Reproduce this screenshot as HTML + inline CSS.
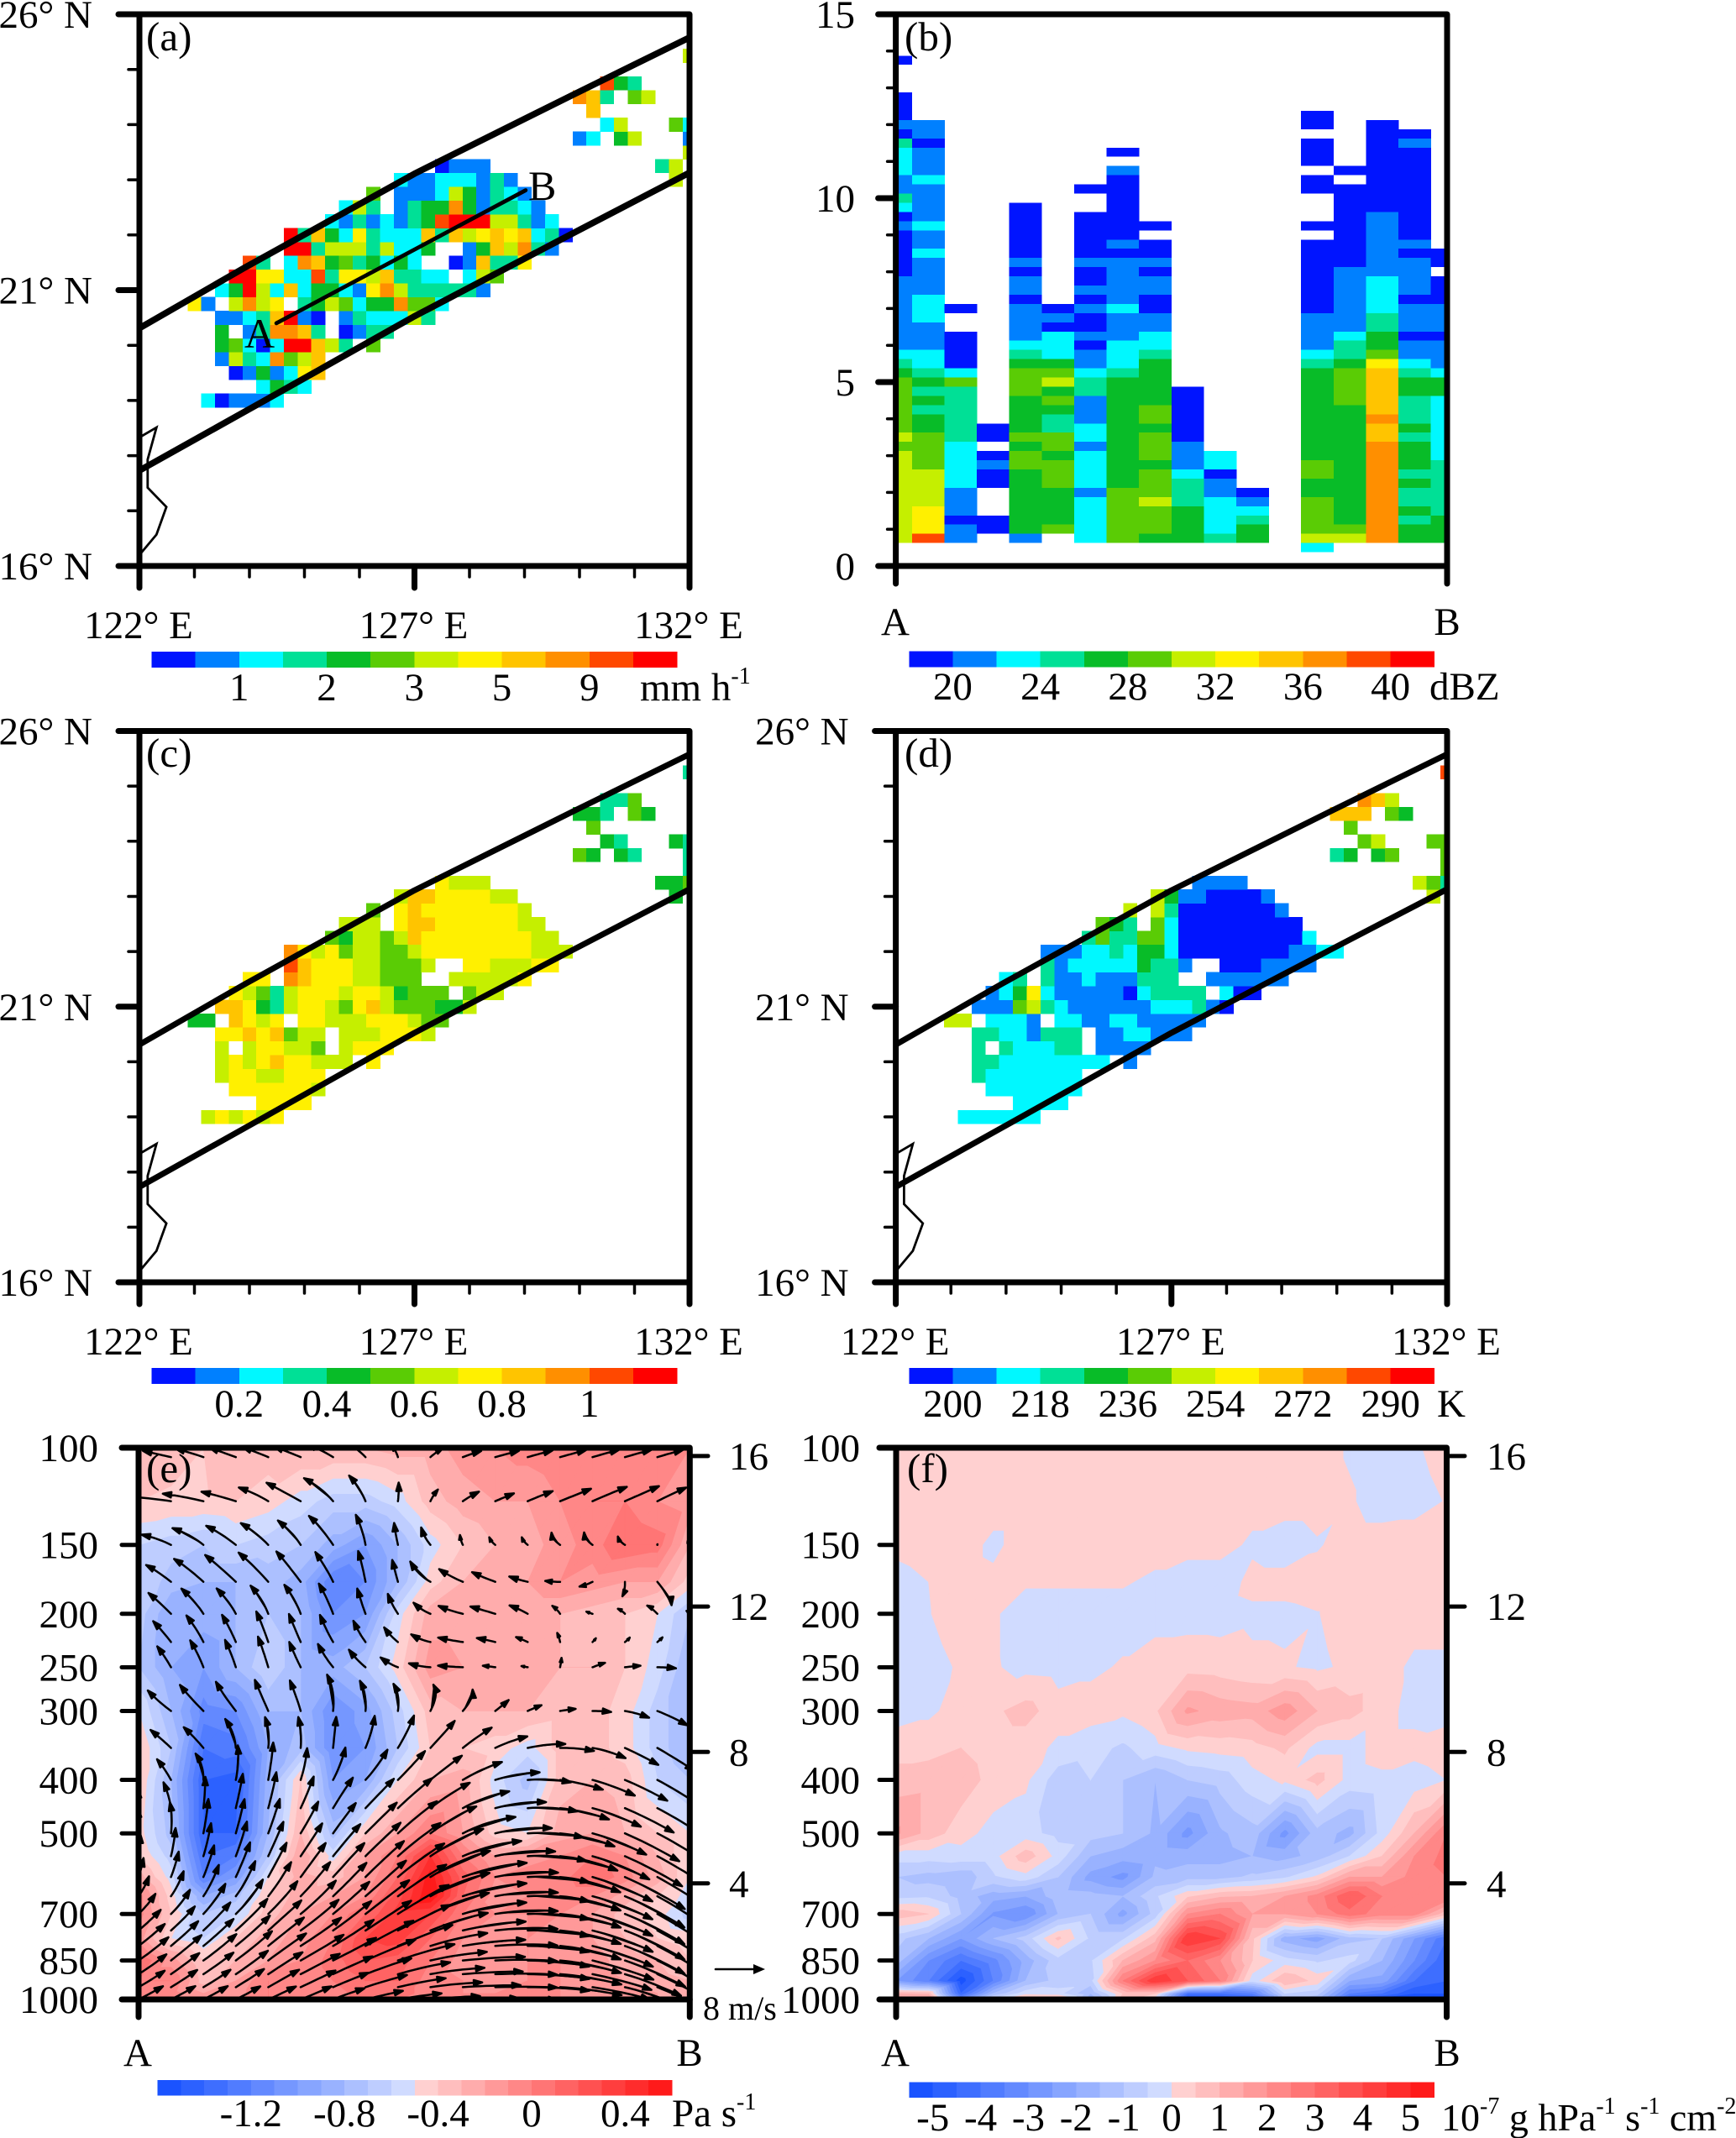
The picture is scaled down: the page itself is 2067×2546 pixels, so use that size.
<!DOCTYPE html>
<html lang="en">
<head>
<meta charset="utf-8">
<title>Six-panel rainfall, reflectivity, cloud and vertical cross-section figure</title>
<style>
html,body{margin:0;padding:0;background:#fff;}
svg{display:block;}
text{font-family:"Liberation Serif",serif;font-size:47px;fill:#000;}
.sup{font-size:28px;}
.plabel{font-size:49px;}
</style>
</head>
<body>
<svg id="fig" xmlns="http://www.w3.org/2000/svg" width="2067" height="2546" viewBox="0 0 2067 2546">
<rect x="0" y="0" width="2067" height="2546" fill="#fff"/>
<defs>
<clipPath id="clip-a"><rect x="166" y="17" width="655" height="657"/></clipPath>
<clipPath id="clip-b"><rect x="1066.6" y="17" width="656.4" height="657"/></clipPath>
<clipPath id="clip-c"><rect x="166" y="870.5" width="655" height="656.5"/></clipPath>
<clipPath id="clip-d"><rect x="1066.6" y="870.5" width="656.4" height="656.5"/></clipPath>
<clipPath id="clip-e"><rect x="165" y="1724" width="656.3" height="657"/></clipPath>
<clipPath id="clip-f"><rect x="1067" y="1724" width="655.5" height="657"/></clipPath>
</defs>
<g id="panel-a"></g>
<g id="panel-b"></g>
<g id="panel-c"></g>
<g id="panel-d"></g>
<g id="panel-e"></g>
<g id="panel-f"></g>
<g id="labels">
<text class="plabel" x="174" y="60">(a)</text>
<text class="plabel" x="1077" y="60">(b)</text>
<text class="plabel" x="174" y="913">(c)</text>
<text class="plabel" x="1077" y="913">(d)</text>
<text class="plabel" x="174" y="1765">(e)</text>
<text class="plabel" x="1080" y="1765">(f)</text>
<text x="291" y="414" style="font-size:50px">A</text>
<text x="629" y="238" style="font-size:50px">B</text>
<text x="1066" y="756" text-anchor="middle">A</text>
<text x="1723" y="756" text-anchor="middle">B</text>
<text x="164" y="2460" text-anchor="middle">A</text>
<text x="821" y="2460" text-anchor="middle">B</text>
<text x="1066" y="2460" text-anchor="middle">A</text>
<text x="1723" y="2460" text-anchor="middle">B</text>
<text x="762" y="834">mm h<tspan class="sup" dy="-20">-1</tspan></text>
<text x="1702" y="833">dBZ</text>
<text x="1711" y="1687">K</text>
<text x="800" y="2532">Pa s<tspan class="sup" dy="-20">-1</tspan></text>
<text x="1716" y="2537" style="font-size:46px">10<tspan class="sup" dy="-20">-7</tspan><tspan dy="20"> g hPa</tspan><tspan class="sup" dy="-20">-1</tspan><tspan dy="20"> s</tspan><tspan class="sup" dy="-20">-1</tspan><tspan dy="20"> cm</tspan><tspan class="sup" dy="-20">-2</tspan></text>
<text x="837" y="2405" style="font-size:40px">8 m/s</text>
</g>
</svg>
<script>
/* ---------- colour tables ---------- */
const rainbow = ['#0014ff','#0080ff','#00f8ff','#00e096','#08bc28','#5acc05','#c5ef00','#fff000','#ffc400','#ff8f00','#ff4800','#ff0000'];

/* ---------- tick labels ---------- */
const latLabels = [26,21,16];
const lonLabels = [122,127,132];
const rainTicks = ['1','2','3','5','9'];
const dbzTicks = ['20','24','28','32','36','40'];
const cloudTicks = ['0.2','0.4','0.6','0.8','1'];
const tempTicks = ['200','218','236','254','272','290'];
const omegaTicks = ['-1.2','-0.8','-0.4','0','0.4'];
const fluxTicks = ['-5','-4','-3','-2','-1','0','1','2','3','4','5'];
const heightAxisTicks = [0,5,10,15];
const pressureTicks = [100,150,200,250,300,400,500,700,850,1000];
const heightKm = ['16','12','8','4'];
const heightAsPressure = [103.5,194,356,616];

/* ---------- map panels: rows of [lat, first lon, colour level, ...]; -1 is no data ---------- */
const rainRows = [
[19,123.25,2,0,1,1,1,2],
[19.25,124.25,2,4,3,2],
[19.5,123.75,0,1,4,1,2,7,8],
[19.75,123.5,1,6,3,2,9,5,6,8],
[20,123.5,4,5,2,0,2,11,11,8,6,3,-1,5],
[20.25,123.5,4,-1,1,3,9,9,8,3,-1,0,1,3,3],
[20.5,123.5,1,1,2,3,8,11,1,0,-1,1,3,2,2,2,6,3],
[20.75,123,7,1,-1,6,9,6,7,-1,3,4,6,5,2,4,4,9,5,5,2],
[21,123.5,2,4,11,6,2,8,2,4,4,2,1,7,9,6,3,3,3,3,3,1],
[21.25,123.75,11,11,7,7,2,2,10,3,7,7,6,8,3,3,2,2,-1,2,6,5],
[21.5,124,10,3,-1,2,9,8,4,5,3,4,2,4,2,-1,-1,0,1,8,3,3,7],
[21.75,124.75,11,11,3,6,6,6,3,6,2,2,4,-1,-1,1,4,8,6,9,3,1],
[22,124.75,11,3,8,4,2,7,3,2,2,2,8,3,8,6,7,8,7,8,2,3,0],
[22.25,125.5,2,1,3,1,2,1,3,4,10,11,11,11,6,6,3,1,2],
[22.5,125.75,2,6,3,-1,1,3,4,4,9,4,1,3,3,2,1],
[22.75,126.25,5,-1,1,1,1,2,6,4,1,3,2,1],
[23,126.75,2,1,1,2,2,2,1,3,1],
[23,131.75,6],
[23.25,127.5,0,1,1,1],
[23.25,131.5,3,6],
[23.5,132,6],
[23.75,130,1,2,-1,4,6],
[23.75,132,1],
[24,130.5,2,6],
[24,131.75,5,2],
[24.25,130.25,8],
[24.5,130,9,8,3,-1,5,6],
[24.75,130.5,10,4,3],
[25.25,132,6]
];
const cloudRows = [
[19,123.25,6,7,6,7,6,7],
[19.25,124.25,7,7,7,7],
[19.5,123.75,7,7,7,7,7,7,6],
[19.75,123.5,6,7,7,6,6,7,7,7],
[20,123.5,6,7,6,7,8,7,7,6,6,6,-1,7],
[20.25,123.5,6,-1,6,7,7,6,6,5,-1,6,7,7,7],
[20.5,123.5,7,7,8,7,8,5,6,6,-1,6,6,6,7,7,7,6],
[20.75,123,4,4,-1,8,7,6,7,-1,7,7,6,6,6,7,7,7,6,5,5],
[21,123.5,8,8,7,4,3,6,7,7,6,5,7,8,6,5,5,5,4,4,6],
[21.25,123.75,7,6,5,3,6,7,7,7,6,7,7,6,4,5,5,5,-1,5,6,6],
[21.5,124,7,7,-1,9,8,7,7,7,6,6,5,5,5,-1,-1,6,6,6,6,6,7],
[21.75,124.75,10,8,7,7,7,6,6,5,5,5,6,-1,-1,7,7,6,6,6,7,7],
[22,124.75,9,7,6,7,5,6,6,5,5,6,7,7,7,7,7,7,7,7,6,6,6],
[22.25,125.5,5,4,6,6,5,6,8,7,7,7,7,7,7,7,7,6,6],
[22.5,125.75,6,6,6,-1,7,8,8,7,7,7,7,7,7,6,6],
[22.75,126.25,5,-1,7,8,7,7,7,7,7,7,7,6],
[23,126.75,6,8,8,7,7,7,7,6,6],
[23,131.75,4],
[23.25,127.5,7,6,6,6],
[23.25,131.5,4,4,5],
[23.5,132,3],
[23.75,130,5,4,-1,4,3],
[23.75,132,3],
[24,130.5,4,3],
[24,131.75,4,3],
[24.25,130.25,5],
[24.5,130,4,4,3,-1,5,4],
[24.75,130.5,3,3,5],
[25.25,132,3]
];
const tempRows = [
[19,123.25,2,2,2,2,2,2],
[19.25,124.25,2,2,2,2],
[19.5,123.75,2,2,2,2,2,2,2],
[19.75,123.5,3,2,2,2,2,2,2,2],
[20,123.5,3,3,2,2,2,2,2,2,2,2,-1,1],
[20.25,123.5,3,-1,3,2,2,2,3,3,-1,1,1,1,1],
[20.5,123.5,3,3,2,2,1,3,3,3,-1,1,1,2,2,1,1,1],
[20.75,123,6,6,-1,2,2,2,1,-1,2,2,1,1,2,2,1,1,1,1,1],
[21,123.5,1,1,1,5,6,3,2,1,1,1,1,1,1,2,2,2,3,1,0],
[21.25,123.75,1,2,4,7,2,1,1,1,1,1,0,2,3,3,3,3,-1,2,0,0],
[21.5,124,2,3,-1,3,1,1,2,1,1,1,3,3,3,-1,-1,1,1,1,1,1,1],
[21.75,124.75,3,1,2,2,2,2,2,4,3,3,1,-1,-1,0,0,0,1,1,1,1],
[22,124.75,1,1,1,2,2,3,2,4,4,2,0,0,0,0,0,0,0,0,1,1,2,2],
[22.25,125.5,3,5,3,3,5,5,2,0,0,0,0,0,0,0,0,0,2],
[22.5,125.75,5,4,3,-1,5,2,0,0,0,0,0,0,0,0,0],
[22.75,126.25,6,-1,6,3,0,0,0,0,0,0,0,1],
[23,126.75,6,4,1,1,0,0,0,0,1],
[23,131.75,6],
[23.25,127.5,1,1,1,1],
[23.25,131.5,6,5,3],
[23.5,132,5],
[23.75,130,3,4,-1,4,5],
[23.75,132,5],
[24,130.5,5,6],
[24,131.75,5,5],
[24.25,130.25,5],
[24.5,130,8,8,8,-1,5,4],
[24.75,130.5,9,8,6],
[25.25,132,10]
];
/* corridor and section lines as lon/lat pairs */
const corridorNorth = [[122,20.31],[123.9,21.4],[127,23.11],[129.86,24.53],[132,25.58]];
const corridorSouth = [[122,17.73],[124.26,18.99],[126.99,20.52],[129.86,22.02],[132,23.13]];
const sectionLine = [[124.49,20.40],[129.02,22.81]];
const coastline = [[122,18.33],[122.31,18.51],[122.15,17.93],[122.15,17.42],[122.49,17.07],[122.31,16.57],[122,16.2]];

/* ---------- panel b: columns along A-B as run-length pairs (level, count) upward from 0.5 km ---------- */
const reflectivityColumns = [
[-1,1,6,10,5,1,6,1,5,6,4,1,3,1,2,1,1,8,0,5,1,1,0,1,2,1,3,1,1,2,2,3,3,1,0,1,1,1,0,3,-1,3,0,1],
[-1,1,10,1,7,3,6,4,5,4,4,2,3,1,4,1,3,1,4,1,3,1,2,2,1,3,2,3,1,4,2,1,1,2,2,1,1,4,2,1,1,3,0,1,1,2],
[-1,1,1,2,0,1,1,3,2,5,3,6,5,1,2,1,0,4,-1,2,0,1],
[-1,2,0,2,-1,3,0,2,1,1,0,1,-1,1,0,2],
[-1,1,1,1,4,7,5,2,4,1,5,1,4,4,5,3,4,1,3,1,2,1,1,4,0,1,1,2,0,1,1,1,0,6],
[-1,2,5,1,4,4,5,3,4,1,5,2,3,2,4,1,5,1,4,1,6,1,5,1,4,1,2,3,0,1,1,1,0,1],
[-1,1,2,5,1,1,2,4,1,1,2,2,1,3,3,2,2,1,1,2,0,1,1,1,0,2,1,1,0,1,1,1,0,2,1,1,0,5,-1,2,0,1],
[-1,1,5,6,4,12,3,1,2,3,1,3,2,1,1,5,0,1,1,1,0,7,1,1,-1,1,0,1],
[-1,1,4,1,5,3,6,1,5,3,4,1,5,3,4,1,5,2,4,5,3,1,2,2,1,2,0,2,1,2,0,1,1,1,0,2,-1,1,0,1],
[-1,1,4,4,3,3,2,1,1,3,0,6],
[-1,1,3,1,2,4,1,2,0,1,2,2],
[-1,1,4,2,3,1,2,1,1,1,0,1],
[],
[2,1,6,1,5,4,4,2,5,2,4,10,3,1,2,1,1,4,0,8,-1,1,0,1,-1,3,0,2,-1,1,0,3,-1,1,0,2],
[-1,1,6,1,5,1,4,13,5,4,4,1,3,2,2,1,1,7,0,9,-1,1,0,1],
[-1,1,9,11,8,2,9,1,8,5,7,1,5,1,4,2,3,2,2,4,1,7,0,10],
[-1,1,4,2,3,1,4,1,3,2,4,1,3,1,4,3,3,1,4,1,3,3,4,2,3,1,2,1,1,2,0,1,1,3,0,1,1,4,0,1,1,1,0,10,1,1,0,1],
[-1,1,4,3,3,6,2,7,4,2,2,1,1,3,0,1,1,3,0,3,-1,1,0,2]
];

/* ---------- panels e, f: pressure levels and values across 18 points from A to B ---------- */
const sectionLevels = [100,125,150,175,200,250,300,350,400,500,550,600,650,700,775,850,925,975,1000];
const omegaField = [
[-.3,-.35,-.4,-.3,-.35,-.3,-.3,-.3,-.25,-.25,-.15,-.1,-.05,0,-.05,-.1,-.1,-.1],
[-.4,-.42,-.42,-.4,-.45,-.55,-.65,-.65,-.55,-.35,-.25,-.2,-.2,-.1,0,0,-.1,-.15],
[-.6,-.65,-.7,-.6,-.65,-.7,-.85,-1,-.8,-.55,-.4,-.3,-.25,-.15,-.05,.1,.05,-.3],
[-.6,-.75,-.8,-.8,-.75,-.85,-1.2,-1.1,-.8,-.45,-.3,-.25,-.2,-.1,-.15,-.2,-.2,-.45],
[-.65,-.9,-.85,-.8,-.7,-.8,-1.1,-1,-.55,-.25,-.25,-.3,-.3,-.3,-.35,-.4,-.5,-.7],
[-.7,-.9,-1,-.8,-.6,-.8,-.85,-.7,-.45,-.15,-.2,-.25,-.3,-.3,-.3,-.4,-.55,-.8],
[-.5,-.8,-1.15,-1.1,-.8,-.8,-1.1,-.95,-.65,-.35,-.3,-.3,-.3,-.35,-.35,-.45,-.65,-.8],
[-.4,-.7,-1.3,-1.25,-.9,-.75,-1.1,-1,-.7,-.4,-.4,-.45,-.55,-.35,-.35,-.45,-.65,-.8],
[-.4,-.8,-1.4,-1.45,-.85,-.4,-1,-.9,-.5,-.3,-.25,-.55,-.75,-.35,-.3,-.35,-.6,-.7],
[-.45,-.75,-1.4,-1.4,-.8,-.3,-.75,-.4,-.2,0,-.2,-.45,-.5,-.25,-.2,-.3,-.4,-.5],
[-.4,-.65,-1.3,-1.2,-.7,-.2,-.55,-.2,0,.4,0,-.2,-.15,-.1,0,-.1,-.3,-.5],
[-.25,-.55,-1.2,-1,-.5,-.25,-.35,-.2,.1,.55,.15,-.1,-.05,-.05,.1,-.05,-.25,-.5],
[-.05,-.45,-.9,-.75,-.4,-.25,-.2,-.1,.25,.6,.1,-.15,-.1,-.1,-.1,-.25,-.4,-.55],
[-.05,-.4,-.7,-.6,-.35,-.2,-.1,.1,.35,.3,0,-.1,-.1,-.1,-.2,-.35,-.45,-.65],
[-.15,-.5,-.6,-.4,-.25,-.15,0,.3,.35,.1,-.1,-.2,-.1,-.15,-.2,-.3,-.4,-.45],
[.1,-.15,-.4,-.3,-.2,-.1,.05,.2,.15,0,-.15,-.2,-.1,-.1,-.15,-.25,-.3,-.4],
[0,0,-.35,-.2,0,-.1,0,.1,.1,-.05,-.1,-.15,-.1,-.1,-.15,-.2,-.25,-.3],
[-.05,-.05,-.2,-.15,0,-.05,-.05,.05,.05,-.05,-.1,-.1,-.1,-.1,-.15,-.15,-.2,-.25],
[-.1,-.1,-.15,-.1,0,0,-.05,0,0,-.05,-.1,-.1,-.1,-.1,-.15,-.15,-.2,-.2]
];
const fluxField = [
[.2,.2,.2,.2,.2,.2,.2,.2,.2,.2,.2,.2,.2,.2,-.05,-.2,-.05,.15],
[.2,.2,.2,.2,.2,.2,.2,.2,.2,.2,.2,.2,.2,.2,.05,-.2,-.15,.02],
[.1,.2,.2,-.1,.2,.2,.2,.2,.2,.2,.2,-.1,-.25,-.05,.2,.2,.2,.2],
[-.15,0,.2,.1,.05,.05,.05,.05,-.1,-.3,-.3,.15,.15,.2,.2,.2,.2,.2],
[-.2,-.02,.2,.05,-.2,-.2,-.2,-.2,-.2,-.2,-.2,-.1,-.1,-.02,.2,.2,.2,.2],
[-.25,-.15,.05,.05,-.15,-.2,-.1,.05,.25,.3,.25,.1,.05,-.1,.1,.2,-.1,-.1],
[-.25,-.1,.2,.4,.7,.2,.2,.1,.4,1.6,1.3,1.2,1.8,1,.7,.2,-.2,-.3],
[.3,.3,.5,.2,.2,-.1,-.3,-.6,-.2,.1,.2,.3,.6,-.2,-.2,.2,.2,.4],
[.7,.8,.8,.3,.1,-.8,-.5,-1,-1.5,-1,-.8,-.2,.1,.7,-.2,-.1,-.3,0],
[1.6,.8,.2,-.2,-.3,-.7,-.8,-1,-1.6,-2.7,-1.6,-1.2,-2.7,-1.2,-1.7,-.3,1,2.5],
[-.3,-.3,-.2,-.2,.8,-.2,-1.5,-1.8,-1.6,-1.7,-1.7,-1.5,-1.7,-1.3,-.5,.5,2,2.7],
[-1,-1.2,-1.4,-.6,-.2,-1,-2.2,-2.7,-1.4,-1.2,-1.2,-.9,-.6,.1,1.5,1.5,2.2,2.5],
[-.7,-.6,-1.2,-1.8,-2,-1.2,-1.3,-1.5,-.6,.4,.9,1,1.5,2.2,3.5,2.5,2,2.5],
[.8,.5,-1,-2.6,-3,-1.5,-1,-2.2,-.8,2,2.5,1.5,1.5,2,2.8,2.2,2.2,.6],
[-.8,-1.5,-2.5,-1.5,-.8,.6,-.6,-.6,.8,4.5,4,.6,-1.8,-2.3,-1.2,-1,-2.5,-4],
[-1.2,-3,-4,-3.2,-1.8,-.7,-.6,1,2,3,2,.5,-.3,-.6,-.3,-1.5,-3,-4.5],
[-2.5,-3.5,-5.3,-3.5,-1.5,-.8,-.7,2.5,4.5,3.5,2.5,-.3,1,.3,-2,-2.2,-4,-4.5],
[1,.8,-4.5,-1.5,-.2,-.3,-1.5,.5,.5,-4,-4,-3.5,-.5,-.8,-3.5,-4,-5,-5],
[2,2,-3,-.2,.8,.8,-2,.8,-.5,-5.5,-5.5,-5,-1,-1.5,-5,-5.5,-5.5,-5.5]
];

/* ---------- panel e wind: along-section U and scaled vertical V in m/s ---------- */
const windLevels = [100,125,150,175,200,250,300,350,400,500,600,700,850,1000];
const windU = [
[-4,-4,-4,-4,-4,-4,-4,-3,-1,2,3,4,4,4,4,4,4,4],
[-7,-7,-6.5,-5.5,-4.5,-5.5,-4,-2,.3,1,2.5,3,4,5,5.5,5.5,4.6,4],
[-4,-4.5,-4.5,-4.5,-4,-3,-3.5,-1,-.8,-2,-.7,-1.2,-1.2,-2,-2,-1.5,0,-.5],
[-3.5,-3.8,-4.5,-4.8,-4.5,-3.8,-2.5,-1,-1,-4,-4,-3.8,-3,-2.4,-2,0,2.8,1],
[-3,-3.5,-3,-2.5,-2,-2,-2,-1.5,-2,-3,-4,-4,-2.8,-1,-1,-1,-1.5,-.5],
[-2,-2,-1.8,-1.5,-1.5,-2,-2.8,-3,-3,-3.5,-4,-2,-1,.3,2,2.5,3,4],
[-3,-4,-4,-3.5,-2.2,-1.5,.5,.3,.5,2,2.5,2.2,2.2,2.5,3,4,5,5],
[-3,-3.2,-3,-.5,.5,.3,.5,2,3,4,4.5,5,6,5.5,5.5,5.5,6,6],
[0,-2,0,1,1,1.5,2.5,4,4.5,5,6,7,7,7,7,7,6.5,6],
[0,.5,1,1.5,2,3,3.5,5,6,7,8,9,9,9,9,9,8.5,8],
[1,1.5,2,2.5,3,4,5,6,7,9,10,10,10,10,10,10,9,8],
[3,3.5,4,5,5,6,6,7,8,9,10,10,10,10,10,10,9,8],
[5,5,5.5,6,6,7,7,8,9,9,10,10,10,10,10,10,9,8],
[4,4,4,4,4.5,5,5,6,7,8,9,10,10,10,9,8,7,6]
];
const windV = [
[1,1,1.5,1.5,1.5,1.5,2,2.5,2,1.5,1,1,1,1,1,1,1,1],
[.5,1,1.5,1.7,2.7,3,4.5,4.5,3,2,1.7,1.3,1.7,2,2.4,2.4,2.3,2],
[1,2.2,3.5,3.5,4,4.5,5,5,3.5,2.5,1.5,1,1,1.5,1.5,1,.1,.5],
[2.5,3,4,4.5,5,5,5,5,3.5,2.4,1.7,1.4,.7,0,-1,-2.4,-3.5,-2],
[3,3.5,4.5,4.5,5,5,5,4,3,1.3,1,1.2,1.6,1.5,.3,1,1.5,.5],
[3,3.5,4.5,4.5,5,4,3.5,2.5,1.2,.3,.2,.3,.2,1.5,.8,.3,0,-.7],
[2.5,3,4,4.5,5,5,6,5,4.5,4,3,1.7,1,.4,0,-.7,-2,-2.5],
[2.5,3,3.5,5,5,5,5,5,5,4.3,3.5,2.3,1.2,0,-1,-2.5,-3.5,-4],
[2,3.5,4.5,5.5,6,5,5,4.5,4.5,4,3.5,2,.5,-1,-2,-3,-3.5,-4],
[4,5,5.5,5.5,5.5,5,5,5,5.5,5,4,2,.5,-1,-2.5,-4,-4.5,-5],
[3,4,5,5.5,5.5,5.5,5.5,6,6,5.5,3.5,2,.5,-1,-3,-4.5,-5,-5],
[3,3.5,4.5,5,5,5,5,5.5,5,4.5,3,1.5,.3,-1,-2.5,-4,-5,-5.5],
[3.5,4,4,4.5,4.5,4,3.5,3.5,3,2,1,.5,-.2,-1,-2.5,-3.5,-4.5,-5],
[2,2,2,2,2,2,2,1.5,1.2,.8,.4,.1,0,-.4,-1,-1.5,-2.5,-3]
];
/* pressure levels at which arrows start */
const arrowLevels = [104,125,150,175,200,225,250,300,350,400,450,500,550,600,650,700,750,800,850,900,950,1000];
const referenceSpeed = [8];

/* ---------- helpers ---------- */
const NS = 'http://www.w3.org/2000/svg';
function node(parent, tag, name, attrs) {
  const el = document.createElementNS(NS, tag);
  for (const k in attrs) el.setAttribute(k, attrs[k]);
  
  
  parent.appendChild(el);
  return el;
}
function label(parent, name, x, y, text, anchor) {
  const el = node(parent, 'text', name, {x: x, y: y, 'text-anchor': anchor || 'middle'});
  el.textContent = text;
  return el;
}
function stroke(parent, name, x1, y1, x2, y2, w) {
  return node(parent, 'line', name, {x1, y1, x2, y2, stroke: '#000', 'stroke-width': w, 'stroke-linecap': 'round'});
}
function frame(parent, name, g) {
  node(parent, 'rect', name, {x: g.L, y: g.T, width: g.R - g.L, height: g.B - g.T, fill: 'none', stroke: '#000', 'stroke-width': 7, 'stroke-linejoin': 'round'});
}
function colorbar(parent, colors, x0, x1, y0, y1, ticks, first, step, base) {
  const w = (x1 - x0) / colors.length;
  colors.forEach((c, i) => {
    node(parent, 'rect', 'colorbar-swatch', {x: x0 + i * w, y: y0, width: w + .4, height: y1 - y0, fill: c, 'shape-rendering': 'crispEdges'});
  });
  ticks.forEach((t, i) => {
    label(parent, 'colorbar-label', x0 + (first + step * i) * w, base, t);
  });
}

/* ---------- map panels ---------- */
function mapPanel(id, g, rows, clipId, lw) {
  const p = document.getElementById(id);
  const x = lon => g.L + (lon - 122) / 10 * (g.R - g.L);
  const y = lat => g.B - (lat - 16) / 10 * (g.B - g.T);
  const cells = node(p, 'g', 'heatmap-cells', {'clip-path': 'url(#' + clipId + ')'});
  rows.forEach(r => {
    r.slice(2).forEach((v, i) => {
      if (v < 0) return;
      const lon = r[1] + .25 * i;
      node(cells, 'rect', 'grid-cell', {x: x(lon - .125), y: y(r[0] + .125), width: x(lon + .125) - x(lon - .125) + .3, height: y(r[0] - .125) - y(r[0] + .125) + .3, fill: rainbow[v], 'shape-rendering': 'crispEdges'});
    });
  });
  const pts = a => a.map(q => x(q[0]).toFixed(1) + ',' + y(q[1]).toFixed(1)).join(' ');
  const lines = node(p, 'g', 'map-lines', {'clip-path': 'url(#' + clipId + ')'});
  node(lines, 'polyline', 'coastline', {points: pts(coastline), fill: 'none', stroke: '#000', 'stroke-width': 2.8});
  node(lines, 'polyline', 'corridor-north-line', {points: pts(corridorNorth), fill: 'none', stroke: '#000', 'stroke-width': lw, 'stroke-linejoin': 'round'});
  node(lines, 'polyline', 'corridor-south-line', {points: pts(corridorSouth), fill: 'none', stroke: '#000', 'stroke-width': lw, 'stroke-linejoin': 'round'});
  if (id === 'panel-a') {
    node(lines, 'polyline', 'section-line-a-b', {points: pts(sectionLine), fill: 'none', stroke: '#000', 'stroke-width': 4.8, 'stroke-linecap': 'round'});
  }
  frame(p, 'plot-frame', g);
  for (let lat = 16; lat <= 26; lat++) {
    const major = latLabels.includes(lat);
    stroke(p, major ? 'y-major-tick' : 'y-minor-tick', g.L - (major ? 25 : 13), y(lat), g.L, y(lat), major ? 7 : 3.5);
  }
  for (let lon = 122; lon <= 132; lon++) {
    const major = lonLabels.includes(lon);
    stroke(p, major ? 'x-major-tick' : 'x-minor-tick', x(lon), g.B, x(lon), g.B + (major ? 26 : 13), major ? 7 : 3.5);
  }
  latLabels.forEach(l => label(p, 'latitude-label', g.L - 56, y(l) + 16, l + '\u00b0 N', 'end'));
  lonLabels.forEach(l => label(p, 'longitude-label', x(l) - 1, g.B + 86, l + '\u00b0 E'));
}
const gA = {L: 166, R: 821, T: 17, B: 674};
const gC = {L: 166, R: 821, T: 870.5, B: 1527};
const gD = {L: 1066.6, R: 1723, T: 870.5, B: 1527};
mapPanel('panel-a', gA, rainRows, 'clip-a', 7.6);
mapPanel('panel-c', gC, cloudRows, 'clip-c', 7);
mapPanel('panel-d', gD, tempRows, 'clip-d', 7);
colorbar(document.getElementById('panel-a'), rainbow, 180.5, 806, 776, 795, rainTicks, 2, 2, 834);
colorbar(document.getElementById('panel-c'), rainbow, 180.5, 806, 1629, 1648, cloudTicks, 2, 2, 1687);
colorbar(document.getElementById('panel-d'), rainbow, 1082.3, 1707.7, 1629, 1648, tempTicks, 1, 2, 1687);

/* ---------- panel b ---------- */
(function () {
  const p = document.getElementById('panel-b');
  const g = {L: 1066.6, R: 1723, T: 17, B: 674};
  const x = i => g.L + i / 17 * (g.R - g.L);
  const y = km => g.B - km / 15 * (g.B - g.T);
  const cells = node(p, 'g', 'reflectivity-cells', {'clip-path': 'url(#clip-b)'});
  reflectivityColumns.forEach((runs, col) => {
    let j = 0;
    for (let r = 0; r < runs.length; r += 2) {
      const level = runs[r], n = runs[r + 1];
      if (level >= 0) {
        const top = y(.5 + .25 * (j + n - 1) + .125), bot = y(.5 + .25 * j - .125);
        node(cells, 'rect', 'reflectivity-cell', {x: x(col - .5), y: top, width: x(col + .5) - x(col - .5) + .3, height: bot - top, fill: rainbow[level], 'shape-rendering': 'crispEdges'});
      }
      j += n;
    }
  });
  frame(p, 'plot-frame', g);
  for (let km = 0; km <= 15; km++) {
    const major = heightAxisTicks.includes(km);
    stroke(p, major ? 'y-major-tick' : 'y-minor-tick', g.L - (major ? 21 : 10), y(km), g.L, y(km), major ? 7 : 3.5);
  }
  stroke(p, 'x-tick-a', g.L, g.B, g.L, g.B + 21, 7);
  stroke(p, 'x-tick-b', g.R, g.B, g.R, g.B + 21, 7);
  heightAxisTicks.forEach(k => label(p, 'height-label', 1018, y(k) + 16, String(k), 'end'));
  colorbar(p, rainbow, 1082.3, 1707.7, 775.5, 794.5, dbzTicks, 1, 2, 833);
})();

/* ---------- contour helpers ---------- */
function clipHalf(poly, level, above) {
  const out = [];
  for (let i = 0; i < poly.length; i++) {
    const a = poly[i], b = poly[(i + 1) % poly.length];
    const ia = above ? a[2] >= level : a[2] <= level;
    const ib = above ? b[2] >= level : b[2] <= level;
    if (ia) out.push(a);
    if (ia !== ib) {
      const t = (level - a[2]) / (b[2] - a[2]);
      out.push([a[0] + t * (b[0] - a[0]), a[1] + t * (b[1] - a[1]), level]);
    }
  }
  return out;
}
function ramp(a, b, n) {
  const res = [];
  for (let i = 0; i < n; i++) {
    const t = i / (n - 1);
    res.push('rgb(' + a.map((v, k) => Math.round(v + t * (b[k] - v))).join(',') + ')');
  }
  return res;
}
const divergingColors = ramp([26, 83, 255], [208, 219, 255], 11).concat(ramp([255, 208, 208], [255, 26, 26], 11));

function sectionPanel(id, g, field, lowest, stepSize, clipId) {
  const p = document.getElementById(id);
  const x = i => g.L + i / 17 * (g.R - g.L);
  const y = pr => g.T + (g.B - g.T) * Math.log10(pr / 100);
  const paths = divergingColors.map(() => '');
  const nb = divergingColors.length;
  const addTri = tri => {
    for (let b = 0; b < nb; b++) {
      let poly = tri;
      if (b > 0) poly = clipHalf(poly, lowest + b * stepSize, true);
      if (poly.length && b < nb - 1) poly = clipHalf(poly, lowest + (b + 1) * stepSize, false);
      if (poly.length > 2) {
        paths[b] += 'M' + poly.map(q => q[0].toFixed(1) + ' ' + q[1].toFixed(1)).join('L') + 'Z';
      }
    }
  };
  for (let r = 0; r < sectionLevels.length - 1; r++) {
    for (let c = 0; c < 17; c++) {
      const A = [x(c), y(sectionLevels[r]), field[r][c]];
      const B = [x(c + 1), y(sectionLevels[r]), field[r][c + 1]];
      const C = [x(c + 1), y(sectionLevels[r + 1]), field[r + 1][c + 1]];
      const D = [x(c), y(sectionLevels[r + 1]), field[r + 1][c]];
      addTri([A, B, D]);
      addTri([B, C, D]);
    }
  }
  const fills = node(p, 'g', 'contour-fills', {'clip-path': 'url(#' + clipId + ')'});
  paths.forEach((d, b) => {
    if (d) node(fills, 'path', 'contour-band', {d: d, fill: divergingColors[b], stroke: divergingColors[b], 'stroke-width': .7});
  });
  return {p, x, y};
}
function sectionAxes(s, g, labelRight, rightTickEnd, rightLabelX) {
  frame(s.p, 'plot-frame', g);
  pressureTicks.forEach(pr => {
    stroke(s.p, 'pressure-tick', g.L - 20, s.y(pr), g.L, s.y(pr), pr === 100 || pr === 1000 ? 7 : 5);
    label(s.p, 'pressure-label', labelRight, s.y(pr) + 16, String(pr), 'end');
  });
  heightAsPressure.forEach((pr, i) => {
    stroke(s.p, 'height-tick', g.R, s.y(pr), rightTickEnd, s.y(pr), 5);
    label(s.p, 'height-km-label', rightLabelX, s.y(pr) + 16, heightKm[i], 'start');
  });
  stroke(s.p, 'x-tick-a', g.L, g.B, g.L, g.B + 21, 7);
  stroke(s.p, 'x-tick-b', g.R, g.B, g.R, g.B + 21, 7);
}

/* ---------- panel e ---------- */
(function () {
  const g = {L: 165, R: 821.3, T: 1724, B: 2381};
  const s = sectionPanel('panel-e', g, omegaField, -1.6, .1, 'clip-e');
  const pxPerMs = 59 / referenceSpeed[0];
  const windY = windLevels.map(s.y);
  const colW = (g.R - g.L) / 17;
  function sample(px, py) {
    let c = (px - g.L) / colW;
    c = Math.max(0, Math.min(16.999, c));
    const c0 = Math.floor(c), tc = c - c0;
    let r0 = 0;
    while (r0 < windY.length - 2 && py > windY[r0 + 1]) r0++;
    const tr = Math.max(0, Math.min(1, (py - windY[r0]) / (windY[r0 + 1] - windY[r0])));
    const mix = m => (1 - tr) * ((1 - tc) * m[r0][c0] + tc * m[r0][c0 + 1]) + tr * ((1 - tc) * m[r0 + 1][c0] + tc * m[r0 + 1][c0 + 1]);
    return [mix(windU), -mix(windV)];
  }
  const arrows = node(s.p, 'g', 'wind-vectors', {'clip-path': 'url(#clip-e)'});
  arrowLevels.forEach(level => {
    for (let col = 0; col < 18; col++) {
      let px = s.x(col), py = s.y(level);
      const v0 = sample(px, py);
      const speed = Math.hypot(v0[0], v0[1]);
      if (speed < .05) continue;
      const total = speed * pxPerMs;
      const ds = total / 10;
      let dir = [v0[0] / speed, v0[1] / speed];
      let d = 'M' + px.toFixed(1) + ' ' + py.toFixed(1);
      for (let k = 0; k < 10; k++) {
        const v = sample(px, py), m = Math.hypot(v[0], v[1]);
        if (m > .05) dir = [v[0] / m, v[1] / m];
        px += dir[0] * ds;
        py += dir[1] * ds;
        d += 'L' + px.toFixed(1) + ' ' + py.toFixed(1);
      }
      const hl = Math.min(10, total * .45), hw = hl * .32;
      const bx = px - dir[0] * hl, by = py - dir[1] * hl;
      d += 'M' + px.toFixed(1) + ' ' + py.toFixed(1) + 'L' + (bx - dir[1] * hw).toFixed(1) + ' ' + (by + dir[0] * hw).toFixed(1) + 'L' + (bx + dir[1] * hw).toFixed(1) + ' ' + (by - dir[0] * hw).toFixed(1) + 'Z';
      const el = document.createElementNS(NS, 'path');
      el.setAttribute('d', d);
      el.setAttribute('fill', '#000');
      el.setAttribute('stroke', '#000');
      el.setAttribute('stroke-width', '2.5');
      el.setAttribute('stroke-linejoin', 'round');
      el.setAttribute('stroke-linecap', 'round');
      
      
      arrows.appendChild(el);
    }
  });
  sectionAxes(s, g, 117, 843, 868);
  const refLen = referenceSpeed[0] * pxPerMs;
  stroke(s.p, 'reference-vector-shaft', 852, 2345, 852 + refLen - 4, 2345, 2.6);
  node(s.p, 'polygon', 'reference-vector-head', {points: (852 + refLen) + ',2345 ' + (852 + refLen - 14) + ',2339 ' + (852 + refLen - 14) + ',2351', fill: '#000'});
  colorbar(s.p, divergingColors, 187.5, 800, 2477, 2495.5, omegaTicks, 4, 4, 2532);
})();

/* ---------- panel f ---------- */
(function () {
  const g = {L: 1067, R: 1722.5, T: 1724, B: 2381};
  const s = sectionPanel('panel-f', g, fluxField, -5.5, .5, 'clip-f');
  sectionAxes(s, g, 1024, 1744, 1770);
  colorbar(s.p, divergingColors, 1082.3, 1707.7, 2479.5, 2498, fluxTicks, 1, 2, 2537);
})();
</script>
</body>
</html>
